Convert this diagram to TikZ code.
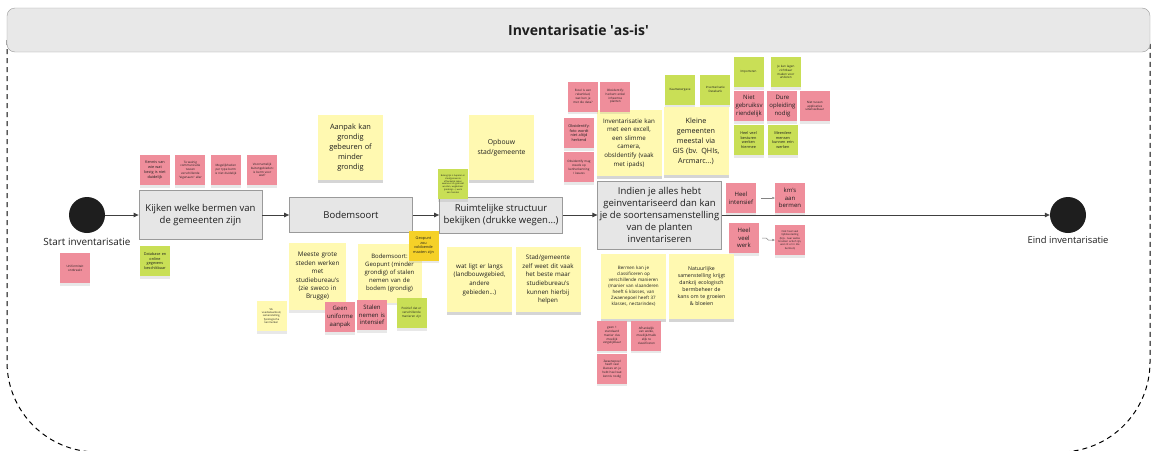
\documentclass[tikz,border=0pt]{standalone}
\usepackage{fontspec}
\setmainfont{Open Sans}[Ligatures=TeXOff]
\usetikzlibrary{arrows.meta,positioning,shadows}
\definecolor{inkblack}{HTML}{1E1E1E}
\definecolor{framegrey}{HTML}{E8E8E8}
\definecolor{edgegrey}{HTML}{9A9A9A}
\definecolor{procgrey}{HTML}{E6E6E6}
\definecolor{stickypink}{HTML}{EF8E9B}
\definecolor{stickylime}{HTML}{C9DF56}
\definecolor{stickyyellow}{HTML}{FFF9B1}
\definecolor{stickygold}{HTML}{F5D128}

\begin{document}
\begin{tikzpicture}[
  x=1pt,y=-1pt,
  every node/.style={align=center,text=inkblack},
  proc/.style={draw=edgegrey,fill=procgrey,line width=0.8pt,minimum width=123pt,inner sep=2pt,font=\fontsize{9.5}{12}\selectfont},
  terminal/.style={circle,fill=inkblack,minimum size=36pt,inner sep=0pt},
  termlabel/.style={font=\fontsize{9.9}{11}\selectfont,inner sep=1pt},
  sticky/.style={minimum width=30pt,minimum height=30pt,text width=29pt,inner sep=0.5pt,
    drop shadow={shadow xshift=0pt,shadow yshift=-2.5pt,opacity=0.18}},
  bigsticky/.style={sticky,minimum width=65pt,minimum height=65pt,text width=61pt},
  pinkst/.style={sticky,fill=stickypink},
  limest/.style={sticky,fill=stickylime},
  yellowst/.style={sticky,fill=stickyyellow},
  goldst/.style={sticky,fill=stickygold},
  scribble/.style={font=\fontsize{3}{3.8}\selectfont},
  memo/.style={font=\fontsize{3.8}{4.8}\selectfont},
  word/.style={font=\fontsize{6}{7.6}\selectfont},
  arr/.style={-{Triangle[length=5pt,width=4.5pt]},line width=0.8pt,draw=inkblack!85},
  thinarr/.style={-{Triangle[length=2.5pt,width=2.2pt]},line width=0.5pt,draw=inkblack!55}
]
\useasboundingbox (0,0) rectangle (1153,450);

% kader
\draw[line width=1pt,dash pattern=on 5pt off 4pt] (7,40) -- (7,362) arc[start angle=180,end angle=90,radius=90] -- (1060,452) arc[start angle=90,end angle=0,radius=90] -- (1150,40);
\node[draw=edgegrey,fill=framegrey,rounded corners=8pt,minimum width=1143pt,minimum height=44pt,font=\bfseries\fontsize{14}{16}\selectfont] (title) at (578.5,30) {Inventarisatie \textquotesingle as-is\textquotesingle};

% stappen
\node[terminal] (start) at (87,215) {};
\node[termlabel,below=3.5pt of start] (startlabel) {Start inventarisatie};
\node[proc,minimum height=49pt] (kijken) at (200.5,215) {Kijken welke bermen van\\de gemeenten zijn};
\node[proc,minimum height=35pt] (bodem) at (351,215) {Bodemsoort};
\node[proc,minimum height=36pt] (ruimte) at (501,215) {Ruimtelijke structuur\\bekijken (drukke wegen...)};
\node[proc,minimum height=68pt] (soorten) at (659.5,215) {Indien je alles hebt\\geinventariseerd dan kan\\je de soortensamenstelling\\van de planten\\inventariseren};
\node[terminal] (eind) at (1068,215) {};
\node[termlabel,font=\fontsize{9.4}{11}\selectfont,below=2pt of eind] (eindlabel) {Eind inventarisatie};

% bermen van de gemeenten
\node[pinkst,memo] (kennis) at (155,170) {Kennis van\\wie wat\\bezig is niet\\duidelijk};
\node[pinkst,scribble,right=5pt of kennis] (weinig) {Te weinig\\communicatie\\tussen\\verschillende\\"eigenaars" aller};
\node[pinkst,scribble,right=5pt of weinig] (mogelijk) {Mogelijkheden\\per type berm\\is niet duidelijk};
\node[pinkst,scribble,right=6pt of mogelijk] (buiten) {Voornamelijk\\buitengebieden:\\is berm voor\\wat?};
\node[pinkst,scribble] (uniform) at (75,268) {Uniformiteit\\ontbreekt};
\node[limest,memo] (database) at (155,261) {Database en\\online\\gegevens\\beschikbaar};

% bodemsoort
\node[yellowst,bigsticky,font=\fontsize{7.4}{10}\selectfont] (aanpak) at (350.5,147.5) {Aanpak kan\\grondig\\gebeuren of\\minder\\grondig};
\node[yellowst,minimum width=57pt,minimum height=67pt,text width=54pt,font=\fontsize{6.3}{8.4}\selectfont] (steden) at (317.5,276.5) {Meeste grote\\steden werken\\met\\studiebureau's\\(zie sweco in\\Brugge)};
\node[yellowst,minimum width=64pt,minimum height=59pt,text width=61pt,font=\fontsize{6}{8}\selectfont] (stalenbodem) at (389.5,273) {Bodemsoort:\\Geopunt (minder\\grondig) of stalen\\nemen van de\\bodem (grondig)};
\node[goldst,memo] (geopunt) at (423.5,245.5) {Geopunt\\zou\\voldoende\\maaten zijn};
\node[pinkst,word] (aanpakuni) at (340,317) {Geen\\uniforme\\aanpak};
\node[pinkst,word] (stalen) at (372,315) {Stalen\\nemen is\\intensief};
\node[limest,scribble] (positief) at (411.5,313) {Positief dat er\\verschillende\\manieren zijn};
\node[yellowst,font=\fontsize{2.6}{3.3}\selectfont] (voorbeeld) at (271.5,316) {Vb.\\voedselaanbod,\\samenstelling,\\fysiologische\\kenmerken};

% ruimtelijke structuur
\node[yellowst,bigsticky,font=\fontsize{6.8}{10}\selectfont] (opbouw) at (501.5,147.5) {Opbouw\\stad/gemeente};
\node[limest,font=\fontsize{2.2}{2.8}\selectfont] (belangrijk) at (453,184) {Belangrijk is bepalen in\\stad/gemeente\\afhankelijk zaken\\waarvoor ze gebruikt\\worden, wegbeheer\\(parkings...) werk\\aan handen};
\node[yellowst,bigsticky,font=\fontsize{6.2}{8.6}\selectfont] (langs) at (479.5,279.5) {wat ligt er langs\\(landbouwgebied,\\andere\\gebieden...)};
\node[yellowst,bigsticky,font=\fontsize{6.2}{8.6}\selectfont] (zelf) at (548,279.5) {Stad/gemeente\\zelf weet dit vaak\\het beste maar\\studiebureau's\\kunnen hierbij\\helpen};

% soortensamenstelling
\node[yellowst,bigsticky,minimum height=66pt,font=\fontsize{6.2}{8.6}\selectfont] (excel) at (629,143) {Inventarisatie kan\\met een excell,\\een slimme\\camera,\\obsIdentify (vaak\\met ipads)};
\node[yellowst,bigsticky,minimum height=68pt,font=\fontsize{7.2}{10}\selectfont] (kleine) at (696,141) {Kleine\\gemeenten\\meestal via\\GIS (bv. QHIs,\\Arcmarc...)};
\node[pinkst,scribble] (rekenblad) at (583,96.5) {Excel is een\\rekenblad,\\wat ben je\\met die data?};
\node[pinkst,scribble,right=2pt of rekenblad] (inheems) {Obsidentify:\\herkent enkel\\inheemse\\planten};
\node[pinkst,memo] (foto) at (579,133) {Obsidentify:\\foto wordt\\niet altijd\\herkend};
\node[pinkst,scribble,below=4pt of foto] (kenherkenning) {Obsidentify mag\\steeds op\\kenherkenning\\/ keuzes};
\node[limest,scribble] (kaart) at (680,89.5) {Kaartweergave};
\node[limest,scribble,right=5pt of kaart] (databank) {Inventarisatie\\Databank};
\node[limest,scribble] (importeren) at (748.5,72) {Importeren};
\node[limest,scribble,right=7pt of importeren] (lagen) {Je kan lagen\\zichtbaar\\maken voor\\anderen};
\node[pinkst,word] (gebruik) at (749,106) {Niet\\gebruiksv\\riendelijk};
\node[pinkst,word,right=3pt of gebruik] (opleiding) {Dure\\opleiding\\nodig};
\node[pinkst,scribble,right=2pt of opleiding] (uitwissel) {Niet tussen\\applicaties\\uitwisselbaar};
\node[limest,memo] (besturen) at (748.5,140) {Heel veel\\besturen\\werken\\hiermee};
\node[limest,memo,right=4pt of besturen] (meerdere) {Meerdere\\mensen\\kunnen erin\\werken};
\node[pinkst,word] (intensief) at (741,198) {Heel\\intensief};
\node[pinkst,word] (kms) at (790,198) {km's\\aan\\bermen};
\node[pinkst,word] (veelwerk) at (744,238) {Heel\\veel\\werk};
\node[pinkst,font=\fontsize{2.6}{3.3}\selectfont] (tijd) at (790,240) {Ook heel veel\\tijdsbesteding\\(bijv. naar welke\\bramen actief zijn,\\wat zit er in die\\bermen)};
\node[yellowst,bigsticky,font=\fontsize{4.5}{6}\selectfont] (classificeren) at (633.5,286.5) {Bermen kan je\\classificeren op\\verschillende manieren\\(manier van vlaanderen\\heeft 6 klasses, van\\Zwaenepoel heeft 37\\klasses, nectarindex)};
\node[yellowst,bigsticky,font=\fontsize{5.2}{7}\selectfont] (natuurlijk) at (701.5,286.5) {Natuurlijke\\samenstelling krijgt\\dankzij ecologisch\\bermbeheer de\\kans om te groeien\\\& bloeien};
\node[pinkst,scribble] (standaard) at (612,335.5) {geen 1\\standaard\\manier dus\\moeilijk\\vergelijkbaar};
\node[pinkst,scribble,right=4pt of standaard] (afhankelijk) {Afhankelijk\\van welke,\\moeilijk/makk\\elijk te\\classificeren};
\node[pinkst,scribble,below=3pt of standaard] (zwaenepoel) {Zwaenepoel\\heeft veel\\klasses en je\\hebt heel wat\\kennis nodig};

\draw[arr] (start) -- (kijken);
\draw[arr] (kijken) -- (bodem);
\draw[arr] (bodem) -- (ruimte);
\draw[arr] (ruimte) -- (soorten);
\draw[arr] (soorten) -- (eind);
\draw[thinarr,shorten <=5pt] (intensief) -- (kms);
\draw[thinarr,shorten <=3pt] (veelwerk.east) -- ++(7,0) -- ++(2,2) -- (tijd.west);
\end{tikzpicture}
\end{document}
